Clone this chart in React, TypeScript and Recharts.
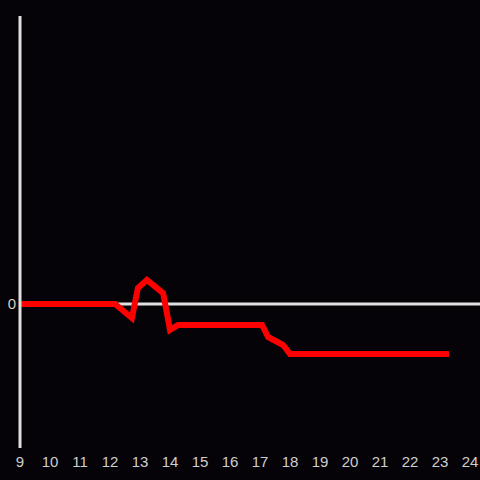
import { LineChart, Line, XAxis, YAxis, ReferenceLine } from "recharts"

// hours (x) and readings (y)
const hours = [9, 12.17, 12.73, 12.93, 13.23, 13.77, 14.0, 14.27, 17.07, 17.27, 17.77, 18.0, 23.3]
const values = [0, 0, -0.097, 0.111, 0.167, 0.076, -0.18, -0.146, -0.146, -0.229, -0.285, -0.347, -0.347]
const hourTicks = [9, 10, 11, 12, 13, 14, 15, 16, 17, 18, 19, 20, 21, 22, 23, 24]
const valueTicks = [0]

const data = hours.map((h, i) => ({ hour: h, value: values[i] }))

export default function App() {
    return (
        <div style={{ position: "fixed", top: 0, left: 0, width: 480, height: 480, background: "#050307", fontFamily: "Liberation Sans, Arial, sans-serif" }}>
            <LineChart width={480} height={480} data={data} margin={{ top: 16, right: 0, left: 0, bottom: 0 }}>
                <XAxis
                    dataKey="hour"
                    type="number"
                    domain={[9, 24.333]}
                    ticks={hourTicks}
                    axisLine={false}
                    tickLine={false}
                    height={32}
                    tick={{ fill: "#cfcfcf", fontSize: 15 }}
                    interval={0}
                    allowDataOverflow
                />
                <YAxis
                    type="number"
                    domain={[-1, 2]}
                    ticks={valueTicks}
                    width={20}
                    tickLine={false}
                    tickSize={0}
                    tickMargin={4}
                    axisLine={{ stroke: "#e0e0e0", strokeWidth: 3 }}
                    tick={{ fill: "#cfcfcf", fontSize: 15 }}
                />
                <ReferenceLine y={0} stroke="#e0e0e0" strokeWidth={3} />
                <Line
                    type="linear"
                    dataKey="value"
                    stroke="#ff0000"
                    strokeWidth={6}
                    dot={false}
                    isAnimationActive={false}
                />
            </LineChart>
        </div>
    )
}
